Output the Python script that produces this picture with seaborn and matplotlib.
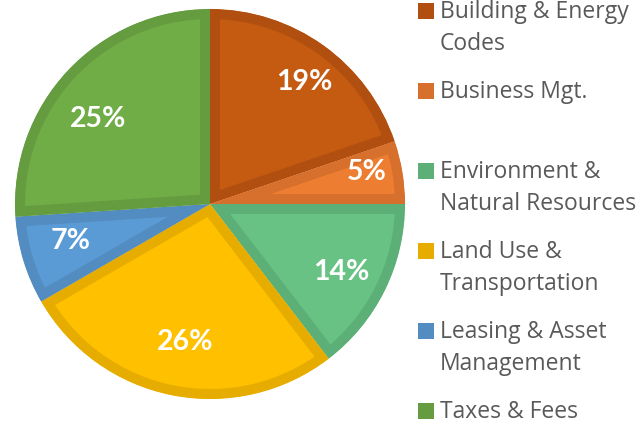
import math

import matplotlib
matplotlib.use("Agg")
import matplotlib.pyplot as plt
import seaborn as sns
from matplotlib.patches import Rectangle

# data
categories = [
    "Building & Energy\nCodes",
    "Business Mgt.",
    "Environment &\nNatural Resources",
    "Land Use &\nTransportation",
    "Leasing & Asset\nManagement",
    "Taxes & Fees",
]
shares = [19, 5, 14, 26, 7, 25]

fills = ["#C55A11", "#ED7D31", "#67C284", "#FFC000", "#5B9BD5", "#70AD47"]
edges = ["#B04F0F", "#D6702C", "#5CB077", "#E6AD00", "#528CC0", "#659C40"]
# label placement (fraction of radius, clockwise angle nudge in degrees)
label_dist = [0.79, 0.82, 0.76, 0.72, 0.74, 0.72]
label_nudge = [2, -2, 1, -1, 2, -6]

sns.set_theme(style="white")
plt.rcParams["font.family"] = ["Lato", "DejaVu Sans"]

W, H = 638, 426
fig = plt.figure(figsize=(W / 100, H / 100), dpi=100)
fig.patch.set_facecolor("white")

# pie: centre (210, 204) px, radius 195 px
cx, cy, r = 210, 204, 195
ax = fig.add_axes([(cx - r) / W, (H - cy - r) / H, 2 * r / W, 2 * r / H])
total = sum(shares)
wedges, _, autotexts = ax.pie(
    shares, colors=fills, startangle=90, counterclock=False, radius=1.0,
    autopct=lambda p: f"{round(p * total / 100)}%", pctdistance=0.76,
    textprops=dict(color="white", fontweight="bold", fontsize=20.5),
)
for w, ec in zip(wedges, edges):
    w.set_edgecolor(ec)
    w.set_linewidth(14.4)
    w.set_clip_on(True)
    w.set_clip_path(w)

for w, t, d, nudge in zip(wedges, autotexts, label_dist, label_nudge):
    mid = math.radians((w.theta1 + w.theta2) / 2 - nudge)
    t.set_position((d * math.cos(mid), d * math.sin(mid)))

ax.set_xlim(-1, 1)
ax.set_ylim(-1, 1)
ax.set_aspect("equal")
ax.axis("off")

# legend drawn by hand to keep Excel-like spacing
for i, (label, ec) in enumerate(zip(categories, edges)):
    base = 18.5 + 80 * i
    fig.patches.append(Rectangle((418 / W, 1 - (base + 0.5) / H), 16 / W, 16 / H,
                                 transform=fig.transFigure, facecolor=ec,
                                 edgecolor="none"))
    for j, line in enumerate(label.split("\n")):
        fig.text(440 / W, 1 - (base + 32 * j) / H, line, ha="left",
                 va="baseline", fontsize=16.5, color="#595959",
                 family=["Open Sans", "DejaVu Sans"])

fig.savefig("out.png", dpi=100)
